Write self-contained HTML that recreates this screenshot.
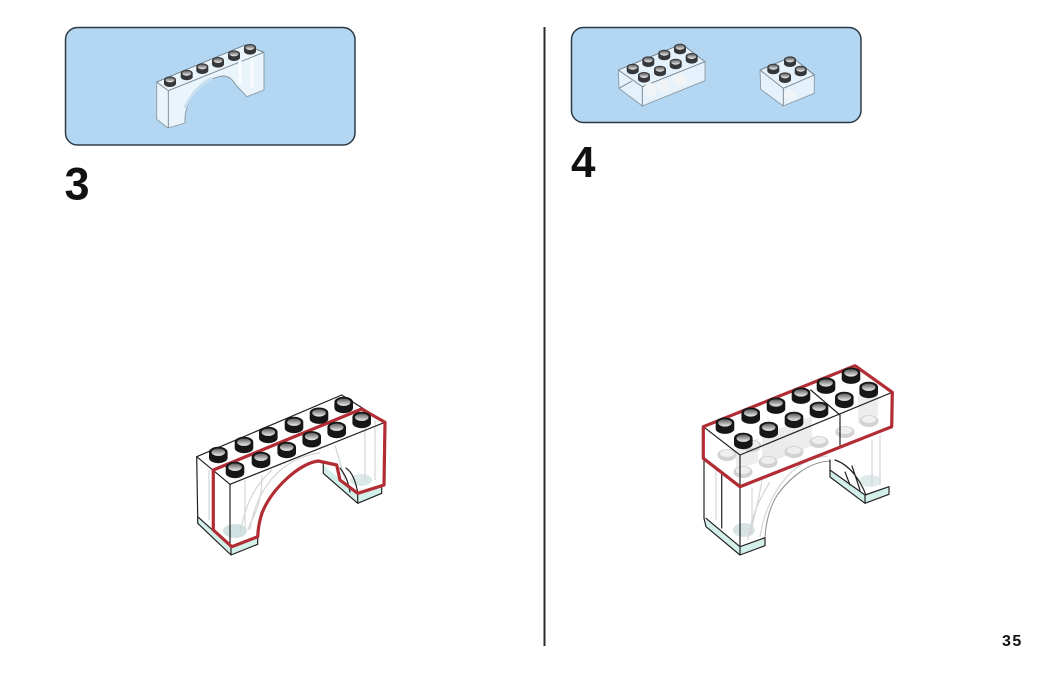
<!DOCTYPE html>
<html>
<head>
<meta charset="utf-8">
<style>
html,body{margin:0;padding:0;background:#fff;width:1050px;height:673px;overflow:hidden}
svg{display:block;filter:blur(.35px)}
text{font-family:"Liberation Sans",sans-serif;font-weight:700;fill:#111}
.e{fill:none;stroke:#222;stroke-width:1.2;stroke-linejoin:round;stroke-linecap:round}
.m{fill:none;stroke:#75838d;stroke-width:.9;stroke-linejoin:round}
.g{fill:none;stroke:#d4d6d7;stroke-width:1.2}
.r{fill:none;stroke:#b22c33;stroke-width:3.2;stroke-linejoin:round;stroke-linecap:round}
</style>
</head>
<body>
<svg width="1050" height="673" viewBox="0 0 1050 673" xmlns="http://www.w3.org/2000/svg">
<defs>
<linearGradient id="h" x1="0" y1="0" x2="0" y2="1">
<stop offset="0" stop-color="#5c5c5c"/><stop offset=".5" stop-color="#a6a6a6"/><stop offset="1" stop-color="#f0f0f0"/>
</linearGradient>
<g id="s">
<path d="M-9.300-3V3A9.300 5.200 0 0 0 9.300 3V-3A9.300 5.200 0 0 0-9.300-3Z" fill="#161616"/>
<ellipse cx="0" cy="-2.800" rx="6.800" ry="3.700" fill="url(#h)"/>
</g>
<g id="t">
<path d="M-6-1.800V1.800A6 3.500 0 0 0 6 1.800V-1.800A6 3.500 0 0 0-6-1.800Z" fill="#35373a"/>
<ellipse cx="0" cy="-1.800" rx="4.500" ry="2.500" fill="url(#h)"/>
</g>
<g id="o">
<ellipse cx="0" cy="0" rx="9.500" ry="6" fill="#d2d2d2"/>
<ellipse cx="0" cy="-1.500" rx="7" ry="3.600" fill="#efefef"/>
</g>
</defs>

<!-- panels -->
<rect x="65.500" y="27.500" width="289.500" height="117.500" rx="12" fill="#b3d7f2" stroke="#2d3b46" stroke-width="1.500"/>
<rect x="571.500" y="27.500" width="289.500" height="95" rx="12" fill="#b3d7f2" stroke="#2d3b46" stroke-width="1.500"/>

<!-- divider -->
<line x1="544.500" y1="27" x2="544.500" y2="646" stroke="#2b2b2b" stroke-width="2"/>

<text x="64.500" y="199.500" font-size="45">3</text>
<text x="571" y="177" font-size="44">4</text>
<text x="1002" y="646" font-size="16" letter-spacing="1.500">35</text>

<!-- mini arch -->
<path d="M156.700 82L245 45L264 52.300V90L247 96.700L235.700 85C232 78 227 76 223 76C204 78 187 98 185 116.700V123L168 128L156.700 119.300Z" fill="#eaf4fb" stroke="#8a97a1" stroke-width=".9" stroke-linejoin="round"/>
<path d="M156.700 82L245 45L264 52.300L168.300 90.700Z" fill="#f8fbfd" class="m"/>
<path d="M168.300 90.700V128" class="m"/>
<path d="M185 108C190 96 200 84 212 78" fill="none" stroke="#c7dff1" stroke-width="3"/>
<path d="M240 60V84M252 58V88" stroke="#f9fcff" stroke-width="3" fill="none"/>
<use href="#t" x="170" y="81.700"/><use href="#t" x="186.700" y="75"/><use href="#t" x="202.300" y="68.700"/><use href="#t" x="218" y="62.300"/><use href="#t" x="234" y="55.700"/><use href="#t" x="250" y="49.300"/>

<!-- mini 2x4 -->
<path d="M618.300 70L681.700 44L705 61.700V80.700L642.300 106L619 88.300Z" fill="#e6f2fb" stroke="#8a97a1" stroke-width=".9" stroke-linejoin="round"/>
<path d="M618.300 70L681.700 44L705 61.700L642.300 86.700Z" fill="#f7fafc" class="m"/>
<path d="M642.300 86.700V106M619 88.300L632 81" class="m"/>
<ellipse cx="650" cy="90" rx="6" ry="7" fill="#f0f4f7"/><ellipse cx="664" cy="86" rx="7" ry="6" fill="#f0f4f7"/><ellipse cx="680" cy="80" rx="7" ry="6" fill="#f0f4f7"/>
<use href="#t" x="632.700" y="69"/><use href="#t" x="648.300" y="61.700"/><use href="#t" x="664.300" y="55"/><use href="#t" x="680" y="49"/>
<use href="#t" x="644" y="77.300"/><use href="#t" x="660" y="71"/><use href="#t" x="675.700" y="64"/><use href="#t" x="691.700" y="58.300"/>

<!-- mini 2x2 -->
<path d="M760 70L791.700 56.700L814.300 75V93.300L783.300 106L760.700 89.300Z" fill="#e6f2fb" stroke="#8a97a1" stroke-width=".9" stroke-linejoin="round"/>
<path d="M760 70L791.700 56.700L814.300 75L783.300 88.300Z" fill="#f7fafc" class="m"/>
<path d="M783.300 88.300V106" class="m"/>
<ellipse cx="790" cy="95" rx="6" ry="5" fill="#f0f4f7"/>
<use href="#t" x="773.300" y="69"/><use href="#t" x="790" y="61.700"/><use href="#t" x="785" y="77.700"/><use href="#t" x="800.700" y="71"/>

<!-- step 3 arch -->
<g>
<path d="M197 516.700V523.300L231 555L257.700 544.300V536.700L231.700 546.700Z" fill="#d3efea"/>
<path d="M323.300 465V473.300L357.700 503.300L381.700 493.300V486.700L357.700 494Z" fill="#d3efea"/>
<ellipse cx="235" cy="531" rx="12" ry="7" fill="#d0e2e2"/>
<ellipse cx="361" cy="480" rx="11" ry="6" fill="#dbe9e9"/>
<path d="M209 470V520M245 480V530M262 475C262 510 250 520 248 530M272 470C250 490 245 510 240 532M320 453C280 458 256 490 250 530M365 425V480M375 420V480M335 445L345 480" class="g"/>
<path d="M196.700 456.700L341.700 395L385 422.300L230 484.300Z" class="e"/>
<path d="M196.700 456.700L197.700 516.700V523.300L231 555L257.700 544.300V536.700M197.700 516.700L231 546.700V555M231 546.700L257.700 536.700M230 484.300V546.700" class="e"/>
<path d="M323.300 461V473.300L357.700 503.300L381.700 493.300V486.700M357.700 495V503.300" class="e"/>
<path d="M340 468C345 475 348 480 350 492M346 468C352 472 356 482 358 494" class="e" stroke-width=".8"/>
<path d="M213.300 470L361.700 409L385 422.300L384 485L357.700 493.300L340 480L336.700 465L318.300 461C300 463 272 488 262 513C259 522 258 530 257.700 536.700L231.700 546.700L213.300 530Z" class="r"/>
<use href="#s" x="218.300" y="455"/><use href="#s" x="244" y="445"/><use href="#s" x="268.300" y="435"/><use href="#s" x="294" y="425"/><use href="#s" x="319" y="415.700"/><use href="#s" x="343.700" y="405"/>
<use href="#s" x="235" y="470"/><use href="#s" x="261" y="460"/><use href="#s" x="286.700" y="450"/><use href="#s" x="311.700" y="439.300"/><use href="#s" x="336.700" y="430"/><use href="#s" x="361.700" y="420"/>
</g>

<!-- step 4 arch -->
<g>
<path d="M706 518.300V526.700L740 555L765 545.700V537.700L740 546.700Z" fill="#d3efea"/>
<path d="M830 470V477L865 503.300L889 494.300V486L865 495Z" fill="#d3efea"/>
<ellipse cx="744" cy="530" rx="11" ry="7" fill="#d8e4e4"/>
<ellipse cx="870" cy="481" rx="11" ry="6" fill="#dfeaea"/>
<path d="M716 470V520M752 488V535M762 480C758 505 752 525 750 535M828 456C790 458 766 498 760 537M770 482C755 505 750 525 748 540M880 435V485M872 440V485" class="g"/>
<path d="M830 461C808 462 790 478 778 494C770 506 766 522 765 537" fill="none" stroke="#8f9496" stroke-width="1.100"/>
<path d="M704 458.300V518.300L706 526.700L740 555L765 545.700V537.700L740 546.700L706 518.300M740 486.700V555M721.700 473V528" class="e"/>
<path d="M830 460V470L865 495V503.300L889 494.300V486.700L865 495M830 470V477L865 503.300" class="e"/>
<path d="M845 472L850 485M852 466L860 490M835 460C850 465 860 480 866 495" class="e" stroke-width=".8"/>
<g>
<path d="M736 447L758 438V462L736 471Z" fill="#ededed"/><path d="M762 436L786 426V456L762 466Z" fill="#ebebeb"/><path d="M786 426L812 416V446L786 456Z" fill="#ededed"/><path d="M858 396L878 388V416L858 424Z" fill="#ededed"/>
<use href="#o" x="727" y="455"/><use href="#o" x="743" y="472"/><use href="#o" x="768" y="462"/><use href="#o" x="794" y="452"/><use href="#o" x="819" y="442"/><use href="#o" x="845" y="432"/><use href="#o" x="869" y="421"/><use href="#o" x="752" y="446"/>
</g>
<path d="M703.300 426.700L855 365.700L892.300 392.300L740 455Z" class="e"/>
<path d="M740 455V486.700M810.700 390L840 415V445" class="e"/>
<path d="M703.300 458.300L740 487" class="e"/>
<path d="M703.300 426.700L855 365.700L892.300 392.300L891.700 426.700L740 486.700L703.300 458.300Z" class="r"/>
<use href="#s" x="725" y="425.700"/><use href="#s" x="750.700" y="415.700"/><use href="#s" x="776" y="405.700"/><use href="#s" x="801" y="395.700"/><use href="#s" x="826" y="385.700"/><use href="#s" x="851" y="375.700"/>
<use href="#s" x="743.300" y="441"/><use href="#s" x="768.700" y="430"/><use href="#s" x="794" y="420"/><use href="#s" x="819" y="410"/><use href="#s" x="844.300" y="400"/><use href="#s" x="868.700" y="390"/>
</g>
</svg>
</body>
</html>
